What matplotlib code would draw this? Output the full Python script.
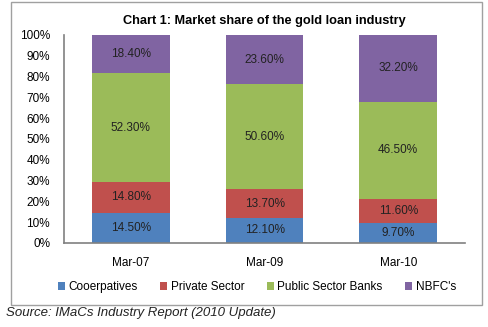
import matplotlib.pyplot as plt
import numpy as np
from matplotlib.patches import Rectangle

plt.rcParams['font.family'] = ['Liberation Sans', 'DejaVu Sans']

periods = ['Mar-07', 'Mar-09', 'Mar-10']
segments = ['Cooerpatives', 'Private Sector', 'Public Sector Banks', "NBFC's"]
cooperatives = [14.5, 12.1, 9.7]
private_sector = [14.8, 13.7, 11.6]
public_banks = [52.3, 50.6, 46.5]
nbfcs = [18.4, 23.6, 32.2]
colors = ['#4F81BD', '#C0504D', '#9BBB59', '#8064A2']

fig = plt.figure(figsize=(4.89, 3.27), dpi=100)
ax = fig.add_axes([0.131, 0.257, 0.82, 0.636])

x = np.arange(len(periods))
bottom = np.zeros(len(periods))
for name, vals, c in zip(segments, [cooperatives, private_sector, public_banks, nbfcs], colors):
    vals = np.array(vals)
    ax.bar(x, vals, 0.58, bottom=bottom, color=c, label=name)
    for xi, b, v in zip(x, bottom, vals):
        ax.text(xi, b + v / 2, f'{v:.2f}%', ha='center', va='center',
                fontsize=8.5, color='#222222')
    bottom += vals

ax.set_xlim(-0.5, 2.5)
ax.set_ylim(0, 100)
ax.set_yticks(np.arange(0, 101, 10))
ax.set_yticklabels([f'{t}%' for t in range(0, 101, 10)])
ax.set_xticks(x)
ax.set_xticklabels(periods)
ax.tick_params(axis='y', labelsize=8.5, length=0, pad=10)
ax.tick_params(axis='x', labelsize=8.5, length=0, pad=10)
for s in ['top', 'right']:
    ax.spines[s].set_visible(False)
for s in ['left', 'bottom']:
    ax.spines[s].set_color('#808080')
    ax.spines[s].set_linewidth(1.2)

ax.set_title('Chart 1: Market share of the gold loan industry', fontsize=9.2,
             fontweight='bold', pad=8)

fig.legend(loc='center', bbox_to_anchor=(0.525, 0.122), ncol=4, frameon=False,
           fontsize=8.5, handlelength=0.6, handleheight=0.6, handletextpad=0.3,
           columnspacing=1.9)

fig.patches.append(Rectangle((0.022, 0.067), 0.964, 0.927, transform=fig.transFigure,
                             fill=False, edgecolor='#A0A0A0', linewidth=1))
fig.text(0.012, 0.042, 'Source: IMaCs Industry Report (2010 Update)', fontsize=9.5,
         style='italic', va='center', color='#222222')

fig.savefig('out.png', dpi=100)
